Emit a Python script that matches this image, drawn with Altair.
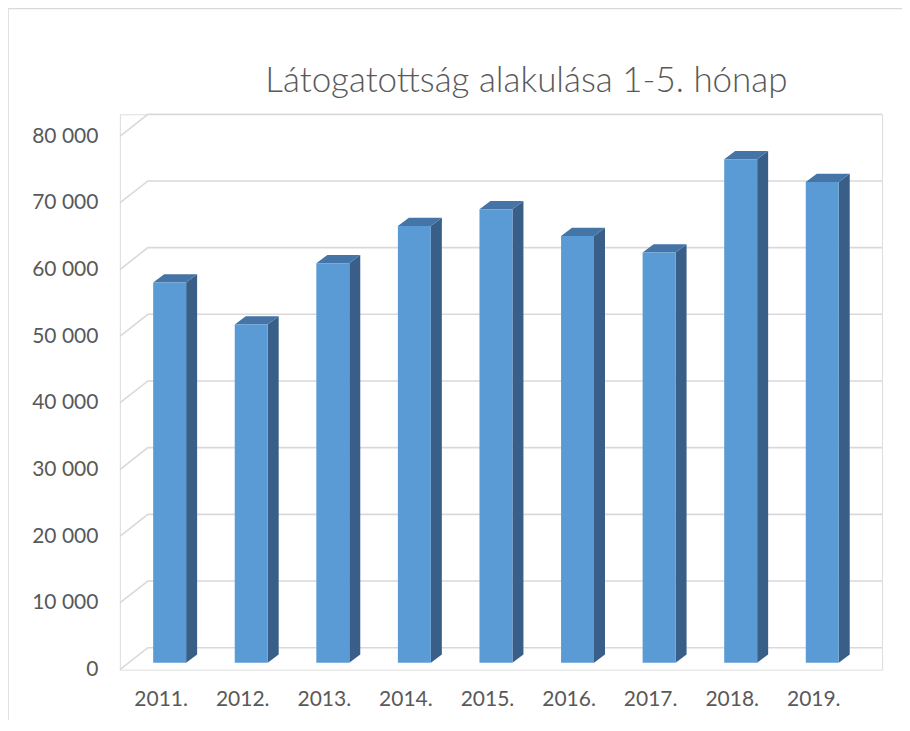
import altair as alt
import pandas as pd

# ---- data ----
years = ["2011.", "2012.", "2013.", "2014.", "2015.", "2016.", "2017.", "2018.", "2019."]
visitors = [57000, 50700, 59900, 65500, 68000, 64000, 61500, 75500, 72100]
tick_values = [0, 10000, 20000, 30000, 40000, 50000, 60000, 70000, 80000]
title_text = "Látogatottság alakulása 1-5. hónap"

# ---- 3D geometry (in scale units) ----
PX_PER_UNIT_X = 81.67
PX_PER_VAL = 0.006675
wall_dx = 28 / PX_PER_UNIT_X      # back wall depth offset (x units)
wall_dy = 22 / PX_PER_VAL         # back wall depth offset (value units)
bar_fx = 9 / PX_PER_UNIT_X        # bar front face depth offset
bar_fy = 7 / PX_PER_VAL
half_w = 16.5 / PX_PER_UNIT_X
side_dx = 11 / PX_PER_UNIT_X
side_dy = 8.3 / PX_PER_VAL

n = len(years)
x_max = n + wall_dx
y_max = tick_values[-1] + wall_dy

W = 763
H = int(round(y_max * PX_PER_VAL))

# gridlines (front diagonal + back wall horizontal)
grid_rows = []
for t in tick_values:
    grid_rows += [
        {"g": t, "k": 0, "x": 0.0, "y": t},
        {"g": t, "k": 1, "x": wall_dx, "y": t + wall_dy},
        {"g": t, "k": 2, "x": x_max, "y": t + wall_dy},
    ]
grid_df = pd.DataFrame(grid_rows)

front_rows, side_rows, top_rows = [], [], []
for i, (yr, v) in enumerate(zip(years, visitors)):
    c = i + 0.5 + bar_fx
    xl, xr = c - half_w, c + half_w
    b, t = bar_fy, v + bar_fy
    front_rows.append({"year": yr, "x": xl, "x2": xr, "y": b, "y2": t})
    side_rows += [
        {"year": yr, "x": xr, "y": b, "y2": t},
        {"year": yr, "x": xr + side_dx, "y": b + side_dy, "y2": t + side_dy},
    ]
    top_rows += [
        {"year": yr, "x": xl, "y": t, "y2": t},
        {"year": yr, "x": xl + side_dx, "y": t, "y2": t + side_dy},
        {"year": yr, "x": xr, "y": t, "y2": t + side_dy},
        {"year": yr, "x": xr + side_dx, "y": t + side_dy, "y2": t + side_dy},
    ]
front_df = pd.DataFrame(front_rows)
side_df = pd.DataFrame(side_rows)
top_df = pd.DataFrame(top_rows)

FONT = "Lato"
xs = alt.Scale(domain=[0, x_max], nice=False, zero=False)
ys = alt.Scale(domain=[0, y_max], nice=False, zero=False)

label_expr = "[" + ",".join("'%s'" % y for y in years) + "][floor(datum.value)]"

x_axis = alt.Axis(values=[i + 0.5 for i in range(n)], labelExpr=label_expr, title=None,
                  domain=False, ticks=False, grid=False, labelPadding=19,
                  labelFont=FONT, labelFontSize=21, labelColor="#595959")
y_axis = alt.Axis(values=tick_values, labelExpr="replace(format(datum.value, ','), ',', ' ')",
                  title=None, domain=False, ticks=False, grid=False, labelPadding=22,
                  labelFont=FONT, labelFontSize=21, labelColor="#595959")

grid = alt.Chart(grid_df).mark_line(color="#d9d9d9", strokeWidth=1.6).encode(
    x=alt.X("x:Q", scale=xs, axis=x_axis),
    y=alt.Y("y:Q", scale=ys, axis=y_axis),
    detail="g:N",
    order="k:Q",
)

side = alt.Chart(side_df).mark_area(color="#395F89", opacity=1, interpolate="linear").encode(
    x=alt.X("x:Q", scale=xs), y=alt.Y("y:Q", scale=ys, stack=False), y2="y2:Q",
    detail="year:N",
)
top = alt.Chart(top_df).mark_area(color="#4574A6", opacity=1, interpolate="linear").encode(
    x=alt.X("x:Q", scale=xs), y=alt.Y("y:Q", scale=ys, stack=False), y2="y2:Q",
    detail="year:N",
)
front = alt.Chart(front_df).mark_rect(color="#5B9BD5", opacity=1).encode(
    x=alt.X("x:Q", scale=xs), x2="x2:Q", y=alt.Y("y:Q", scale=ys), y2="y2:Q",
)

one = pd.DataFrame({"a": [0]})
frame_left = alt.Chart(one).mark_rule(color="#d9d9d9", strokeWidth=1.5).encode(
    x=alt.value(-112), y=alt.value(-106), y2=alt.value(H + 60)
)
frame_top = alt.Chart(one).mark_rule(color="#d9d9d9", strokeWidth=1.5).encode(
    x=alt.value(-112), x2=alt.value(W + 40), y=alt.value(-106)
)
title = alt.Chart(pd.DataFrame({"t": [title_text]})).mark_text(
    font=FONT, fontSize=35, fontWeight=300, color="#595959",
    align="center", baseline="alphabetic"
).encode(text="t:N", x=alt.value(407), y=alt.value(-22))

chart = alt.layer(frame_left, frame_top, grid, side, top, front, title).properties(
    width=W, height=H,
    autosize=alt.AutoSizeParams(type="none"),
    padding={"left": 112, "top": 106, "right": 20, "bottom": 50},
).configure_view(stroke=None).configure(background="white")

chart.save("out.html", embed_options={"renderer": "svg", "actions": False})
